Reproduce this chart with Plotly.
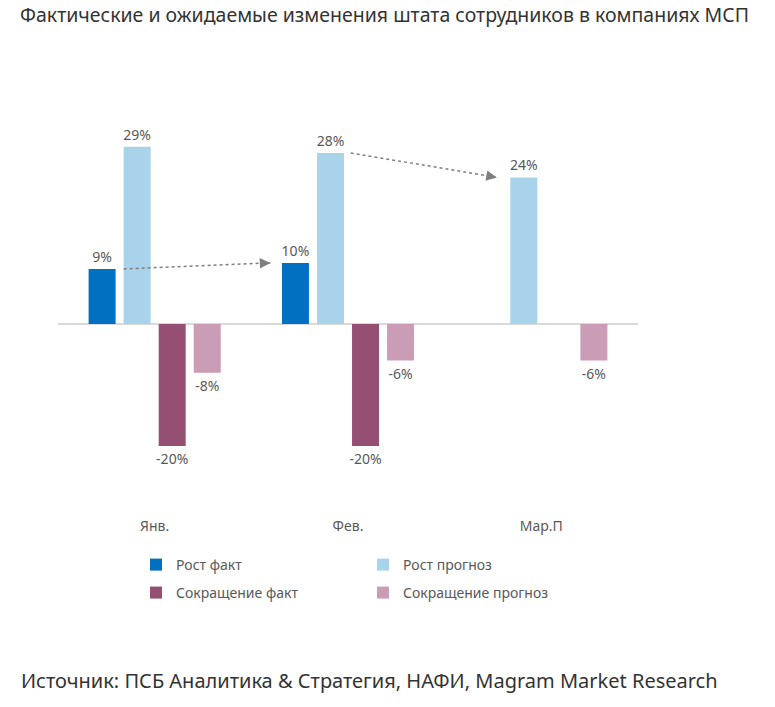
import plotly.graph_objects as go

categories = ["Янв.", "Фев.", "Мар.П"]
series_names = ["Рост факт", "Рост прогноз", "Сокращение факт", "Сокращение прогноз"]
rost_fakt = [9, 10, None]
rost_prognoz = [29, 28, 24]
sokr_fakt = [-20, -20, None]
sokr_prognoz = [-8, -6, -6]
colors = ["#0070C0", "#A9D3EB", "#954F72", "#CB9CB6"]

title_text = "Фактические и ожидаемые изменения штата сотрудников в компаниях МСП"
source_text = "Источник: ПСБ Аналитика &amp; Стратегия, НАФИ, Magram Market Research"

series = [rost_fakt, rost_prognoz, sokr_fakt, sokr_prognoz]

W, H = 775, 707
ML, MR, MT, MB = 58, 137, 120, 195
plot_w = W - ML - MR
plot_h = H - MT - MB
BARGAP = 0.275
GROUPGAP = 0.23

fig = go.Figure()
for i, (name, vals) in enumerate(zip(series_names, series)):
    fig.add_trace(go.Bar(
        x=categories, y=vals, name=name,
        marker=dict(color=colors[i], line=dict(width=0)),
        text=[f"{v}%" if v is not None else "" for v in vals],
        textposition="outside",
        constraintext="none",
        textfont=dict(family="Noto Sans", size=14, color="#595959"),
        cliponaxis=False,
        legend="legend" if i in (0, 1) else "legend2",
        showlegend=True,
    ))

# geometry of grouped bars in category units
slot = (1 - BARGAP) / 4
half_w = slot * (1 - GROUPGAP) / 2
def bar_center(cat_idx, k):
    return cat_idx + (k - 1.5) * slot

arrow_color = "#7F7F7F"
# arrow 1: from Jan growth-fact level to Feb growth-fact
a1_x0 = bar_center(0, 1) - half_w
a1_x1 = bar_center(1, 0) - half_w - 0.06
a1_y0, a1_y1 = rost_fakt[0], rost_fakt[1]
# arrow 2: from Feb forecast to Mar forecast
a2_x0 = bar_center(1, 1) + half_w + 0.035
a2_x1 = bar_center(2, 1) - half_w - 0.07
a2_y0, a2_y1 = rost_prognoz[1], rost_prognoz[2]

for (x0, y0, x1, y1) in [(a1_x0, a1_y0, a1_x1, a1_y1), (a2_x0, a2_y0, a2_x1, a2_y1)]:
    fig.add_shape(type="line", xref="x", yref="y", x0=x0, y0=y0, x1=x1, y1=y1,
                  layer="above",
                  line=dict(color=arrow_color, width=1.5, dash="dot"))
    dx = x1 - x0
    dy = y1 - y0
    fig.add_annotation(x=x1, y=y1, ax=x1 - dx * 0.08, ay=y1 - dy * 0.08,
                       xref="x", yref="y", axref="x", ayref="y",
                       showarrow=True, arrowhead=2, arrowsize=1.4, arrowwidth=1.5,
                       arrowcolor=arrow_color, text="")

fig.add_annotation(
    text=source_text, xref="paper", yref="paper",
    x=(19 - ML) / plot_w, y=(H - MB - 680) / plot_h,
    xanchor="left", yanchor="middle", showarrow=False,
    font=dict(family="Noto Sans", size=20, color="#333333"),
)

legend_font = dict(family="Noto Sans", size=14, color="#595959")
fig.update_layout(
    width=W, height=H,
    margin=dict(l=ML, r=MR, t=MT, b=MB, pad=0),
    paper_bgcolor="white", plot_bgcolor="white",
    barmode="group", bargap=BARGAP, bargroupgap=GROUPGAP,
    title=dict(text=title_text, x=20 / W, xanchor="left", xref="container",
               y=1 - 15 / H, yanchor="middle", yref="container",
               font=dict(family="Noto Sans", size=19.5, color="#333333")),
    xaxis=dict(type="category", showgrid=False, showline=False, ticks="",
               tickfont=dict(family="Noto Sans", size=14, color="#595959"),
               ticklabelstandoff=4,
               range=[-0.5, 2.5]),
    yaxis=dict(range=[-30.8, 33.4], showgrid=False, showticklabels=False,
               zeroline=True, zerolinecolor="#D9D9D9", zerolinewidth=2,
               showline=False, ticks=""),
    legend=dict(orientation="h", x=(136 - ML) / plot_w, xanchor="left",
                y=-(565 - (H - MB)) / plot_h, yanchor="middle",
                entrywidth=182, entrywidthmode="pixels", font=legend_font,
                bgcolor="rgba(0,0,0,0)"),
    legend2=dict(orientation="h", x=(136 - ML) / plot_w, xanchor="left",
                 y=-(593 - (H - MB)) / plot_h, yanchor="middle",
                 entrywidth=182, entrywidthmode="pixels", font=legend_font,
                 bgcolor="rgba(0,0,0,0)"),
    showlegend=True,
)

fig.write_html("out.html")
